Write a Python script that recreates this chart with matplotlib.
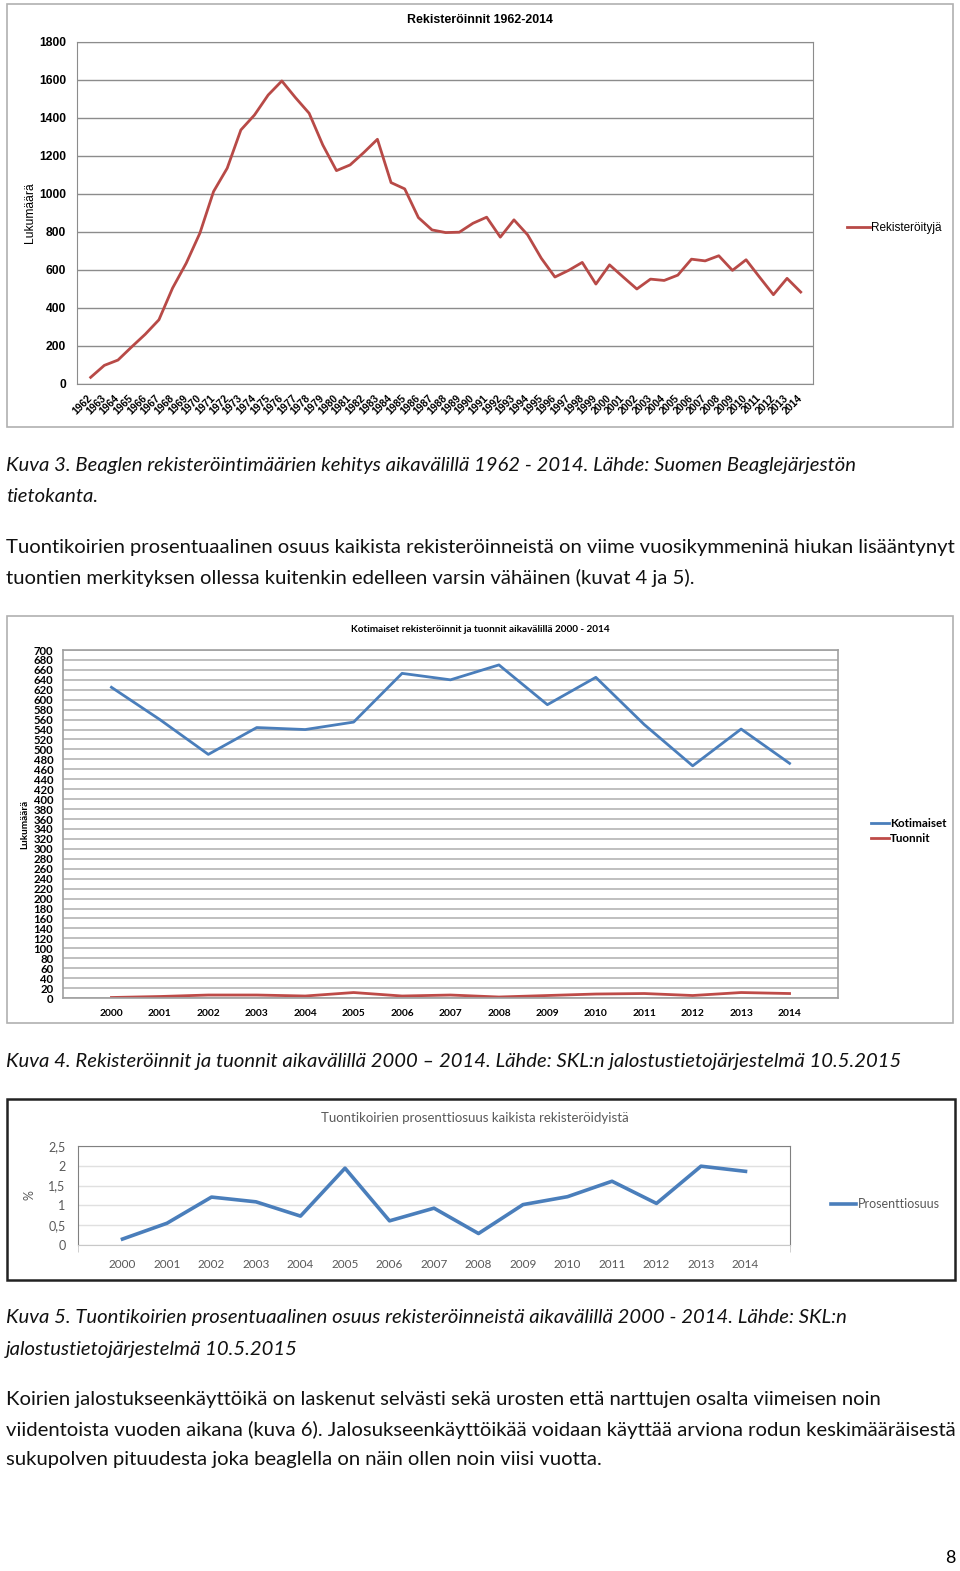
import matplotlib.pyplot as plt
import numpy as np
from matplotlib.patches import Rectangle

W, H = 960, 1571

# Kuva 3: registrations 1962-2014
years1 = list(range(1962, 2015))
registered = [35, 98, 126, 195, 262, 338, 505, 636, 794, 1013, 1136, 1337, 1416, 1521, 1595,
              1507, 1425, 1258, 1123, 1153, 1218, 1288, 1060, 1027, 876, 811, 797, 799, 846,
              878, 773, 864, 785, 662, 563, 598, 640, 526, 627, 563, 500, 552, 545, 573, 657,
              648, 675, 598, 654, 561, 470, 556, 484]

# Kuva 4: domestic registrations and imports 2000-2014
years2 = [str(y) for y in range(2000, 2015)]
domestic = [625, 560, 490, 544, 540, 555, 653, 640, 670, 590, 645, 550, 467, 541, 472]
imports = [1, 3, 6, 6, 4, 11, 4, 6, 2, 5, 8, 9, 5, 11, 9]

# Kuva 5: share of imports (%)
share = [0.15, 0.55, 1.21, 1.09, 0.73, 1.94, 0.61, 0.93, 0.29, 1.02, 1.22, 1.61, 1.05, 1.99, 1.86]
share_ticks = [0, 0.5, 1, 1.5, 2, 2.5]
share_labels = ['0', '0,5', '1', '1,5', '2', '2,5']

BODY = 'Lato'
ARIAL = 'Liberation Sans'


def box(x0, y0, x1, y1):
    return [x0 / W, 1 - y1 / H, (x1 - x0) / W, (y1 - y0) / H]


def fx(x):
    return x / W


def fy(y):
    return 1 - y / H


fig = plt.figure(figsize=(W / 100, H / 100), dpi=100)
fig.patch.set_facecolor('white')

# frames around the three charts
fig.patches.append(Rectangle((fx(7), fy(427)), (953 - 7) / W, (427 - 4) / H, transform=fig.transFigure,
                             fill=False, edgecolor='#b0b0b0', lw=1.2))
fig.patches.append(Rectangle((fx(7), fy(1023)), (953 - 7) / W, (1023 - 616) / H, transform=fig.transFigure,
                             fill=False, edgecolor='#b0b0b0', lw=1.2))
fig.patches.append(Rectangle((fx(7), fy(1280)), (955 - 7) / W, (1280 - 1099) / H, transform=fig.transFigure,
                             fill=False, edgecolor='#222222', lw=1.8))

# ---- chart 1
ax1 = fig.add_axes(box(77, 42, 813, 384))
ax1.plot(years1, registered, color='#B84A47', lw=2, label='Rekisteröityjä')
ax1.set_xlim(1961, 2014.9)
ax1.set_ylim(0, 1800)
ax1.set_yticks(np.arange(0, 1801, 200))
ax1.set_xticks(years1)
ax1.set_xticklabels([str(y) for y in years1], rotation=45, ha='right', va='center',
                    rotation_mode='anchor', fontsize=7.5, fontweight='bold', family=ARIAL)
ax1.tick_params(axis='x', length=0, pad=9)
ax1.tick_params(axis='y', length=0, pad=8, labelsize=8.7)
for lab in ax1.get_yticklabels():
    lab.set_fontweight('bold')
    lab.set_family(ARIAL)
ax1.grid(axis='y', color='#8c8c8c', lw=1)
ax1.set_axisbelow(True)
for s in ax1.spines.values():
    s.set_color('#8c8c8c')
ax1.set_ylabel('Lukumäärä', family=ARIAL, fontsize=8.7, labelpad=2)
ax1.legend(loc='center left', bbox_to_anchor=(fx(836), fy(228)), bbox_transform=fig.transFigure,
           frameon=False, handlelength=2.0, handletextpad=0.1, prop={'family': ARIAL, 'size': 8.5})
fig.text(fx(480), fy(20), 'Rekisteröinnit 1962-2014', ha='center', va='center',
         family=ARIAL, fontsize=8.9, fontweight='bold')

# ---- chart 2
ax2 = fig.add_axes(box(63, 650, 838, 998))
x2 = np.arange(len(years2))
ax2.plot(x2, domestic, color='#4A7EBB', lw=2, label='Kotimaiset')
ax2.plot(x2, imports, color='#BE4B48', lw=2, label='Tuonnit')
ax2.set_xlim(-1, 15)
ax2.set_ylim(0, 700)
ax2.set_yticks(np.arange(0, 701, 20))
ax2.set_xticks(x2)
ax2.set_xticklabels(years2)
ax2.tick_params(axis='both', length=0)
ax2.tick_params(axis='x', pad=8, labelsize=7.4)
ax2.tick_params(axis='y', labelsize=8.2, pad=7)
for lab in ax2.get_xticklabels() + ax2.get_yticklabels():
    lab.set_fontweight('bold')
    lab.set_family(BODY)
ax2.grid(axis='y', color='#b4b4b4', lw=1.2)
ax2.set_axisbelow(True)
for s in ax2.spines.values():
    s.set_color('#a0a0a0')
    s.set_linewidth(1.2)
ax2.set_ylabel('Lukumäärä', family=BODY, fontsize=7.2, fontweight='bold', labelpad=3)
ax2.legend(loc='center left', bbox_to_anchor=(fx(860), fy(831)), bbox_transform=fig.transFigure,
           frameon=False, handlelength=1.6, handletextpad=0.05, labelspacing=0.3,
           prop={'family': BODY, 'size': 8.4, 'weight': 'bold'})
fig.text(fx(480), fy(630), 'Kotimaiset rekisteröinnit ja tuonnit aikavälillä 2000 - 2014', ha='center',
         va='center', family=BODY, fontsize=7.2, fontweight='bold')

# ---- chart 3
ax3 = fig.add_axes(box(78, 1146, 790, 1245))
x3 = np.arange(len(years2))
ax3.plot(x3, share, color='#4A7EBB', lw=2.6, label='Prosenttiosuus')
ax3.set_xlim(-1, 15)
ax3.set_ylim(0, 2.5)
ax3.set_yticks(share_ticks)
ax3.set_yticklabels(share_labels)
ax3.set_xticks(x3)
ax3.set_xticklabels(years2)
ax3.set_xticks([-1, 15], minor=True)
ax3.tick_params(axis='both', which='major', length=0, labelsize=8.5, colors='#595959')
ax3.tick_params(axis='x', which='major', pad=10)
ax3.tick_params(axis='y', which='major', pad=9, labelsize=9)
ax3.tick_params(axis='x', which='minor', length=5, color='#c8c8c8')
for lab in ax3.get_xticklabels() + ax3.get_yticklabels():
    lab.set_family(BODY)
ax3.grid(axis='y', color='#e0e0e0', lw=1)
ax3.set_axisbelow(True)
for s in ['top', 'right', 'left']:
    ax3.spines[s].set_color('#808080')
ax3.spines['bottom'].set_color('#c8c8c8')
ax3.set_ylabel('%', family=BODY, fontsize=9, color='#595959', labelpad=9)
ax3.legend(loc='center left', bbox_to_anchor=(fx(820), fy(1204)), bbox_transform=fig.transFigure,
           frameon=False, handlelength=2.0, handletextpad=0.1,
           prop={'family': BODY, 'size': 9}, labelcolor='#595959')
fig.text(fx(475), fy(1118), 'Tuontikoirien prosenttiosuus kaikista rekisteröidyistä', ha='center',
         va='center', family=BODY, fontsize=9.5, color='#595959')

# ---- body text
body = [
    (466, 'Kuva 3. Beaglen rekisteröintimäärien kehitys aikavälillä 1962 - 2014. Lähde: Suomen Beaglejärjestön', 'italic'),
    (496, 'tietokanta.', 'italic'),
    (547, 'Tuontikoirien prosentuaalinen osuus kaikista rekisteröinneistä on viime vuosikymmeninä hiukan lisääntynyt', 'normal'),
    (578, 'tuontien merkityksen ollessa kuitenkin edelleen varsin vähäinen (kuvat 4 ja 5).', 'normal'),
    (1061, 'Kuva 4. Rekisteröinnit ja tuonnit aikavälillä 2000 – 2014. Lähde: SKL:n jalostustietojärjestelmä 10.5.2015', 'italic'),
    (1318, 'Kuva 5. Tuontikoirien prosentuaalinen osuus rekisteröinneistä aikavälillä 2000 - 2014. Lähde: SKL:n', 'italic'),
    (1349, 'jalostustietojärjestelmä 10.5.2015', 'italic'),
    (1399, 'Koirien jalostukseenkäyttöikä on laskenut selvästi sekä urosten että narttujen osalta viimeisen noin', 'normal'),
    (1430, 'viidentoista vuoden aikana (kuva 6). Jalosukseenkäyttöikää voidaan käyttää arviona rodun keskimääräisestä', 'normal'),
    (1460, 'sukupolven pituudesta joka beaglella on näin ollen noin viisi vuotta.', 'normal'),
]
for y, txt, style in body:
    fig.text(fx(6), fy(y), txt, ha='left', va='center', family=BODY, fontsize=14.6, style=style, color='#111111')

fig.text(fx(955), fy(1558), '8', ha='right', va='center', family=BODY, fontsize=13)

fig.savefig('out.png', dpi=100)
